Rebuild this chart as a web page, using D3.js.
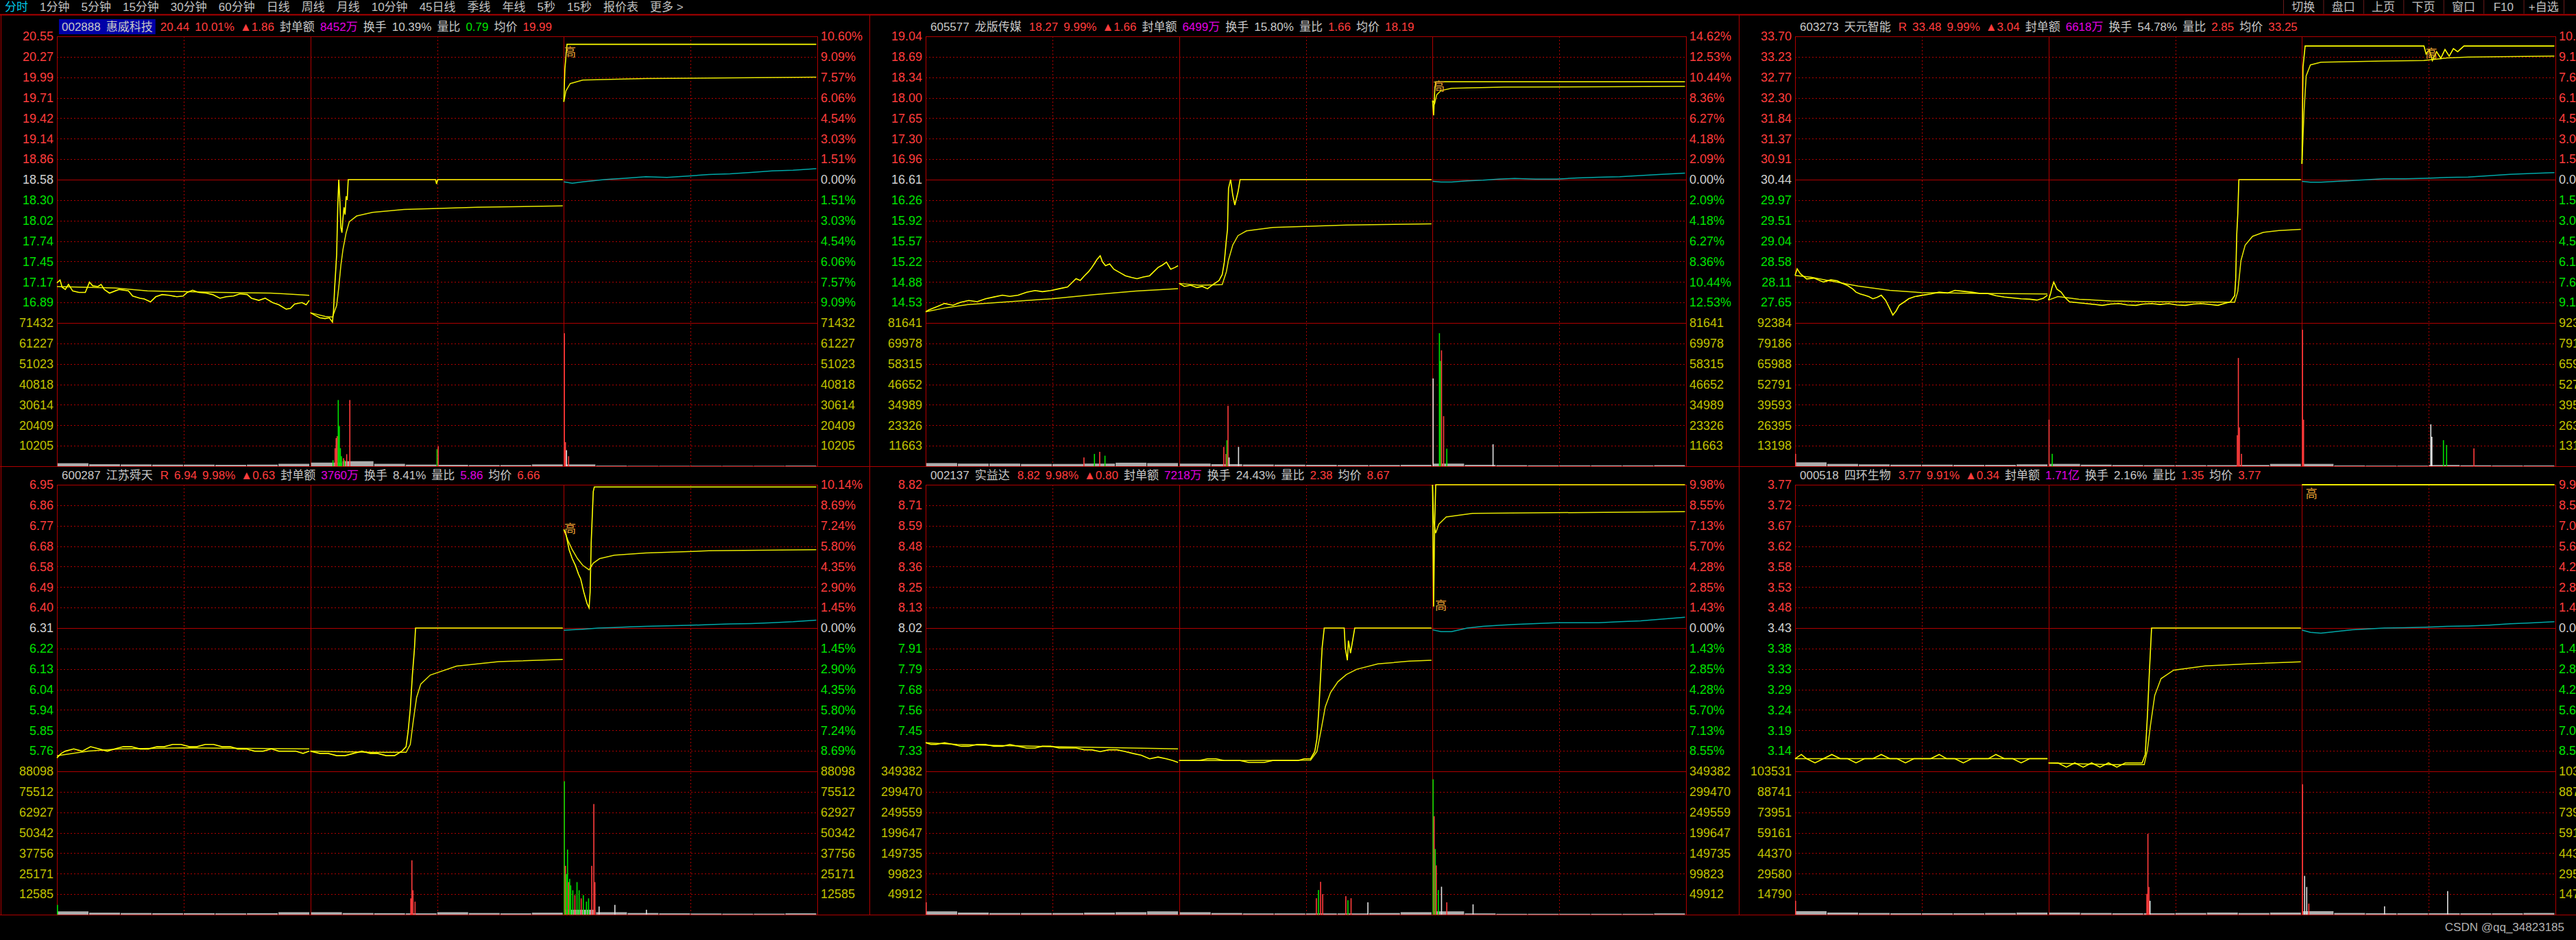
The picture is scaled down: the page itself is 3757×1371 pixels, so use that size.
<!DOCTYPE html>
<html><head><meta charset="utf-8">
<script src="https://cdn.jsdelivr.net/npm/d3@7"></script>
<style>
body{margin:0;background:#000;overflow:hidden}
svg{display:block}
text{font-family:"Liberation Sans",Arial,"Noto Sans CJK SC",sans-serif}
</style></head><body>
<svg id="c" width="3757" height="1371"></svg>
<script>
// ---------------- DATA ----------------
const toolbarLeft = ["分时","1分钟","5分钟","15分钟","30分钟","60分钟","日线","周线","月线","10分钟","45日线","季线","年线","5秒","15秒","报价表","更多 >"];
const toolbarRight = ["切换","盘口","上页","下页","窗口","F10","+自选"];
const watermark = "CSDN @qq_34823185";

// panel 1 : 002888
const p1Header = [["002888","name"],["惠威科技","name"],["20.44","up"],["10.01%","up"],["▲1.86","up"],["封单额","txt"],["8452万","mag"],["换手","txt"],["10.39%","txt"],["量比","txt"],["0.79","down"],["均价","txt"],["19.99","up"]];
const p1Top = 20.55, p1Prev = 18.58, p1VolMax = 71432;
const p1PriceLabels = ["20.55","20.27","19.99","19.71","19.42","19.14","18.86","18.58","18.30","18.02","17.74","17.45","17.17","16.89"];
const p1PctLabels = ["10.60%","9.09%","7.57%","6.06%","4.54%","3.03%","1.51%","0.00%","1.51%","3.03%","4.54%","6.06%","7.57%","9.09%"];
const p1VolLabels = ["71432","61227","51023","40818","30614","20409","10205"];
const p1Price = [[0,17.16],[3,17.20],[5,17.10],[8,17.07],[11,17.14],[15,17.05],[21,17.03],[27,17.03],[31,17.17],[34,17.12],[39,17.11],[42,17.14],[45,17.07],[50,17.02],[59,17.07],[68,17.05],[72,16.98],[79,16.95],[83,16.94],[89,16.90],[94,16.97],[100,17.00],[107,16.99],[114,16.97],[120,16.98],[124,17.03],[129,17.06],[135,17.03],[142,17.02],[148,17.00],[155,16.95],[161,16.97],[168,16.98],[174,17.01],[181,17.00],[185,16.95],[192,16.92],[198,16.95],[205,16.89],[211,16.86],[218,16.80],[222,16.81],[226,16.87],[233,16.89],[237,16.86],[240,16.92],
[241,16.75],[246,16.71],[250,16.68],[255,16.67],[259,16.68],[262,16.62],[263,16.77],[264,17.07],[266,17.55],[267,18.19],[268,18.58],[269,18.30],[270,17.92],[271,17.85],[272,18.05],[273,18.20],[274,18.10],[275,18.35],[276,18.30],[277,18.58],[360,18.58],[361,18.52],[362,18.58],[481,18.58],
[482,19.65],[483,20.10],[485,20.44],[722,20.44]];
const p1Avg = [[0,17.11],[55,17.09],[86,17.05],[155,17.03],[203,17.02],[216,17.01],[240,16.99],
[241,16.75],[255,16.70],[262,16.69],[266,16.85],[268,17.10],[270,17.40],[272,17.62],[275,17.85],[278,18.00],[285,18.08],[300,18.13],[330,18.17],[400,18.20],[481,18.22],
[482,19.65],[484,19.80],[488,19.90],[500,19.95],[560,19.97],[722,19.99]];
const p1Index = [[482,18.55],[490,18.53],[500,18.55],[520,18.58],[540,18.60],[560,18.62],[580,18.61],[600,18.63],[620,18.65],[640,18.66],[660,18.68],[680,18.70],[700,18.71],[722,18.73]];
const p1Vol = [[262,3000,-1],[264,9000,1],[265,14000,1],[266,15000,1],[267,33000,-1],[268,20000,-1],[269,9000,-1],[270,5000,-1],[272,4000,1],[273,3000,-1],[275,6000,1],[278,33000,1],[361,8500,-1],[362,9900,1],[482,66300,1],[483,12000,1],[484,8000,0],[486,5000,1]];
const p1VolBase = [1500,1000,900,800,800,700,800,1200,1800,2500,1200,800,700,600,600,900,900,300,200,200,200,200,200,300];
const p1Mark = [488,20.33];

// panel 2 : 605577
const p2Header = [["605577","name"],["龙版传媒","name"],["18.27","up"],["9.99%","up"],["▲1.66","up"],["封单额","txt"],["6499万","mag"],["换手","txt"],["15.80%","txt"],["量比","txt"],["1.66","up"],["均价","txt"],["18.19","up"]];
const p2Top = 19.04, p2Prev = 16.61, p2VolMax = 81641;
const p2PriceLabels = ["19.04","18.69","18.34","18.00","17.65","17.30","16.96","16.61","16.26","15.92","15.57","15.22","14.88","14.53"];
const p2PctLabels = ["14.62%","12.53%","10.44%","8.36%","6.27%","4.18%","2.09%","0.00%","2.09%","4.18%","6.27%","8.36%","10.44%","12.53%"];
const p2VolLabels = ["81641","69978","58315","46652","34989","23326","11663"];
const p2Price = [[0,14.37],[3,14.40],[10,14.45],[18,14.51],[26,14.48],[33,14.53],[41,14.56],[49,14.54],[57,14.59],[65,14.62],[73,14.65],[80,14.63],[88,14.65],[96,14.70],[104,14.73],[111,14.71],[119,14.73],[127,14.76],[135,14.79],[139,14.86],[143,14.93],[147,14.90],[151,14.98],[155,15.05],[158,15.12],[161,15.20],[163,15.26],[166,15.32],[168,15.22],[171,15.15],[175,15.18],[179,15.09],[185,15.03],[190,14.98],[196,14.95],[201,14.93],[207,14.96],[213,14.98],[217,15.05],[221,15.12],[225,15.16],[229,15.21],[233,15.09],[237,15.12],[240,15.15],
[241,14.85],[246,14.80],[252,14.82],[258,14.78],[263,14.80],[268,14.76],[274,14.84],[279,14.90],[282,15.00],[284,15.21],[286,15.60],[287,15.76],[288,16.46],[290,16.61],[292,16.35],[294,16.18],[297,16.40],[299,16.61],[481,16.61],
[482,17.95],[483,17.70],[484,18.10],[485,18.27],[722,18.27]];
const p2Avg = [[0,14.37],[20,14.44],[40,14.49],[80,14.54],[120,14.59],[160,14.66],[200,14.72],[240,14.76],
[241,14.85],[260,14.82],[282,14.83],[286,15.05],[288,15.25],[292,15.50],[297,15.66],[305,15.74],[330,15.80],[400,15.84],[481,15.86],
[482,17.95],[484,17.90],[486,18.05],[490,18.12],[500,18.16],[550,18.18],[722,18.19]];
const p2Index = [[482,16.58],[490,16.57],[500,16.57],[515,16.59],[530,16.60],[545,16.62],[560,16.63],[580,16.62],[600,16.62],[620,16.64],[640,16.65],[660,16.66],[680,16.68],[700,16.70],[722,16.72]];
const p2Vol = [[150,5000,1],[160,7000,-1],[165,8200,1],[170,6000,-1],[283,11000,1],[285,7000,1],[286,14800,-1],[287,34400,1],[288,5000,0],[297,11000,0],[482,50000,0],[488,75800,-1],[489,60000,-1],[490,66000,1],[492,28500,1],[495,10000,-1],[539,12500,0]];
const p2VolBase = [1800,1500,1500,1300,1300,1500,2000,1800,1500,1200,1000,900,800,700,700,800,1500,800,600,500,500,500,500,600];
const p2Mark = [488,18.19];

// panel 3 : 603273
const p3Header = [["603273","name"],["天元智能","name"],["R","up"],["33.48","up"],["9.99%","up"],["▲3.04","up"],["封单额","txt"],["6618万","mag"],["换手","txt"],["54.78%","txt"],["量比","txt"],["2.85","up"],["均价","txt"],["33.25","up"]];
const p3Top = 33.70, p3Prev = 30.44, p3VolMax = 92384;
const p3PriceLabels = ["33.70","33.23","32.77","32.30","31.84","31.37","30.91","30.44","29.97","29.51","29.04","28.58","28.11","27.65"];
const p3PctLabels = ["10.71%","9.18%","7.65%","6.12%","4.59%","3.06%","1.53%","0.00%","1.53%","3.06%","4.59%","6.12%","7.65%","9.18%"];
const p3VolLabels = ["92384","79186","65988","52791","39593","26395","13198"];
const p3Price = [[0,28.26],[2,28.41],[5,28.30],[11,28.18],[18,28.20],[27,28.11],[34,28.16],[40,28.14],[45,28.08],[50,28.03],[55,27.95],[58,27.88],[62,27.84],[66,27.81],[70,27.78],[74,27.73],[78,27.76],[82,27.81],[86,27.70],[90,27.51],[93,27.36],[96,27.45],[99,27.58],[104,27.66],[108,27.73],[114,27.78],[121,27.81],[129,27.84],[137,27.88],[145,27.86],[152,27.92],[160,27.90],[168,27.88],[176,27.85],[183,27.85],[191,27.80],[199,27.77],[207,27.75],[215,27.73],[223,27.72],[230,27.70],[236,27.74],[240,27.81],
[241,27.70],[243,27.85],[244,27.96],[246,28.11],[249,27.95],[253,27.88],[257,27.75],[261,27.66],[269,27.64],[277,27.62],[285,27.60],[292,27.58],[300,27.61],[308,27.62],[316,27.59],[324,27.58],[331,27.61],[339,27.62],[347,27.60],[355,27.62],[363,27.59],[371,27.58],[379,27.61],[386,27.62],[394,27.60],[402,27.58],[408,27.62],[414,27.66],[418,27.80],[419,28.18],[420,29.20],[421,29.67],[422,30.44],[481,30.44],
[482,30.80],[483,33.00],[485,33.48],[598,33.48],[600,33.30],[603,33.40],[606,33.15],[610,33.35],[614,33.20],[618,33.40],[622,33.25],[626,33.42],[630,33.35],[636,33.48],[722,33.48]];
const p3Avg = [[0,28.26],[15,28.22],[30,28.15],[60,28.02],[90,27.92],[120,27.87],[180,27.85],[240,27.84],
[241,27.70],[250,27.78],[270,27.72],[300,27.68],[350,27.66],[418,27.65],[421,27.90],[424,28.60],[428,28.95],[435,29.15],[445,29.24],[460,29.28],[481,29.31],
[482,30.80],[484,32.00],[486,32.80],[490,33.05],[500,33.11],[560,33.14],[598,33.15],[620,33.21],[640,33.23],[722,33.25]];
const p3Index = [[482,30.40],[490,30.38],[500,30.38],[515,30.40],[530,30.42],[545,30.44],[560,30.46],[580,30.46],[600,30.47],[620,30.49],[640,30.50],[660,30.53],[680,30.56],[700,30.58],[722,30.60]];
const p3Vol = [[0,8000,1],[241,30000,1],[244,8000,-1],[420,20000,1],[421,69800,1],[422,25000,1],[424,8000,1],[482,88000,1],[483,30000,1],[604,27000,0],[605,19000,0],[616,16800,-1],[619,13700,-1],[645,11500,1]];
const p3VolBase = [2500,1500,1200,1000,1000,900,900,1200,1500,1000,800,700,700,700,800,1500,1500,500,400,400,800,600,500,500];
const p3Mark = [605,33.30];

// panel 4 : 600287
const p4Header = [["600287","name"],["江苏舜天","name"],["R","up"],["6.94","up"],["9.98%","up"],["▲0.63","up"],["封单额","txt"],["3760万","mag"],["换手","txt"],["8.41%","txt"],["量比","txt"],["5.86","mag"],["均价","txt"],["6.66","up"]];
const p4Top = 6.95, p4Prev = 6.31, p4VolMax = 88098;
const p4PriceLabels = ["6.95","6.86","6.77","6.68","6.58","6.49","6.40","6.31","6.22","6.13","6.04","5.94","5.85","5.76"];
const p4PctLabels = ["10.14%","8.69%","7.24%","5.80%","4.35%","2.90%","1.45%","0.00%","1.45%","2.90%","4.35%","5.80%","7.24%","8.69%"];
const p4VolLabels = ["88098","75512","62927","50342","37756","25171","12585"];
const p4Price = [[0,5.73],[4,5.75],[8,5.76],[16,5.77],[24,5.76],[32,5.78],[40,5.77],[48,5.76],[55,5.77],[63,5.78],[71,5.78],[79,5.77],[87,5.77],[95,5.78],[102,5.78],[110,5.79],[118,5.79],[126,5.78],[133,5.78],[141,5.79],[149,5.79],[157,5.78],[165,5.78],[172,5.77],[180,5.77],[188,5.76],[196,5.76],[204,5.77],[211,5.76],[219,5.76],[227,5.76],[234,5.75],[240,5.76],
[241,5.76],[250,5.75],[258,5.75],[266,5.74],[274,5.74],[282,5.75],[290,5.76],[298,5.75],[305,5.75],[313,5.74],[321,5.74],[328,5.76],[332,5.78],[334,5.85],[336,5.95],[338,6.10],[340,6.22],[341,6.31],[481,6.31],
[482,6.75],[484,6.73],[487,6.66],[490,6.62],[493,6.59],[496,6.55],[498,6.53],[501,6.47],[504,6.42],[506,6.40],[507,6.47],[508,6.69],[510,6.92],[511,6.94],[722,6.94]];
const p4Avg = [[0,5.74],[30,5.76],[60,5.77],[120,5.775],[240,5.77],
[241,5.76],[300,5.755],[332,5.755],[336,5.79],[339,5.90],[342,6.00],[346,6.06],[355,6.10],[380,6.14],[420,6.16],[481,6.17],
[482,6.75],[486,6.70],[490,6.66],[495,6.62],[500,6.59],[506,6.57],[510,6.60],[516,6.62],[530,6.635],[560,6.645],[620,6.655],[722,6.66]];
const p4Index = [[482,6.30],[490,6.302],[500,6.305],[515,6.31],[530,6.312],[545,6.315],[560,6.318],[580,6.32],[600,6.322],[620,6.325],[640,6.328],[660,6.33],[680,6.334],[700,6.338],[722,6.345]];
const p4Vol = [[0,6000,-1],[336,10000,1],[337,33400,1],[338,15000,1],[340,8000,1],[482,82000,-1],[483,30000,1],[484,25000,-1],[485,40000,-1],[486,20000,1],[487,22000,-1],[488,18000,-1],[490,15000,-1],[492,12000,1],[494,20000,-1],[496,15000,-1],[498,10000,1],[500,12000,-1],[503,8000,-1],[505,10000,-1],[508,30000,1],[510,68000,1],[511,20000,1],[515,5000,0],[530,6000,0],[560,3000,0]];
const p4VolBase = [2000,1200,1000,900,900,800,900,1500,1500,1000,900,800,1500,1000,800,1200,3000,1500,1000,800,700,600,600,800];
const p4Mark = [488,6.754];

// panel 5 : 002137
const p5Header = [["002137","name"],["实益达","name"],["8.82","up"],["9.98%","up"],["▲0.80","up"],["封单额","txt"],["7218万","mag"],["换手","txt"],["24.43%","txt"],["量比","txt"],["2.38","up"],["均价","txt"],["8.67","up"]];
const p5Top = 8.82, p5Prev = 8.02, p5VolMax = 349382;
const p5PriceLabels = ["8.82","8.71","8.59","8.48","8.36","8.25","8.13","8.02","7.91","7.79","7.68","7.56","7.45","7.33"];
const p5PctLabels = ["9.98%","8.55%","7.13%","5.70%","4.28%","2.85%","1.43%","0.00%","1.43%","2.85%","4.28%","5.70%","7.13%","8.55%"];
const p5VolLabels = ["349382","299470","249559","199647","149735","99823","49912"];
const p5Price = [[0,7.38],[5,7.37],[10,7.37],[18,7.38],[26,7.37],[34,7.36],[41,7.36],[49,7.37],[57,7.37],[65,7.36],[73,7.36],[80,7.37],[88,7.36],[96,7.35],[104,7.35],[111,7.36],[119,7.36],[127,7.35],[135,7.35],[143,7.35],[151,7.34],[158,7.34],[166,7.33],[174,7.34],[182,7.34],[190,7.33],[197,7.32],[205,7.31],[213,7.29],[221,7.30],[229,7.29],[235,7.28],[240,7.27],
[241,7.28],[250,7.28],[260,7.28],[268,7.29],[276,7.29],[284,7.28],[291,7.28],[299,7.28],[307,7.27],[315,7.27],[322,7.27],[330,7.28],[338,7.28],[346,7.28],[354,7.28],[360,7.29],[366,7.29],[370,7.33],[372,7.40],[374,7.58],[377,7.91],[379,8.02],[398,8.02],[399,7.91],[401,7.84],[402,7.95],[404,7.88],[406,7.95],[408,8.02],[481,8.02],
[482,8.82],[483,8.14],[484,8.60],[485,8.82],[722,8.82]];
const p5Avg = [[0,7.38],[30,7.37],[60,7.365],[120,7.358],[180,7.352],[240,7.345],
[241,7.28],[300,7.28],[366,7.282],[372,7.33],[376,7.45],[380,7.58],[385,7.66],[392,7.72],[400,7.76],[410,7.79],[430,7.82],[460,7.835],[481,7.84],
[482,8.82],[483,8.62],[485,8.55],[488,8.60],[495,8.64],[520,8.66],[722,8.67]];
const p5Index = [[482,8.01],[490,8.00],[500,8.00],[515,8.02],[530,8.03],[545,8.035],[560,8.04],[580,8.045],[600,8.05],[620,8.05],[640,8.05],[660,8.055],[680,8.06],[700,8.07],[722,8.08]];
const p5Vol = [[0,30000,1],[371,40000,1],[373,60000,-1],[375,80000,1],[377,50000,1],[399,45000,1],[401,35000,-1],[404,40000,1],[420,30000,0],[482,330000,-1],[483,240000,1],[484,160000,-1],[485,120000,1],[487,60000,-1],[490,68000,0],[495,30000,1],[520,25000,0]];
const p5VolBase = [8000,5000,4000,4000,4000,5000,6000,8000,6000,4000,3000,3000,3000,3000,4000,6000,8000,3000,2000,2000,2000,2000,2000,3000];
const p5Mark = [490,8.145];

// panel 6 : 000518
const p6Header = [["000518","name"],["四环生物","name"],["3.77","up"],["9.91%","up"],["▲0.34","up"],["封单额","txt"],["1.71亿","mag"],["换手","txt"],["2.16%","txt"],["量比","txt"],["1.35","up"],["均价","txt"],["3.77","up"]];
const p6Top = 3.77, p6Prev = 3.43, p6VolMax = 103531;
const p6PriceLabels = ["3.77","3.72","3.67","3.62","3.58","3.53","3.48","3.43","3.38","3.33","3.29","3.24","3.19","3.14"];
const p6PctLabels = ["9.91%","8.50%","7.08%","5.66%","4.25%","2.83%","1.42%","0.00%","1.42%","2.83%","4.25%","5.66%","7.08%","8.50%"];
const p6VolLabels = ["103531","88741","73951","59161","44370","29580","14790"];
const p6Price = [[0,3.12],[6,3.13],[11,3.12],[19,3.11],[27,3.12],[35,3.13],[43,3.12],[50,3.12],[58,3.11],[66,3.12],[74,3.12],[82,3.13],[90,3.12],[97,3.12],[105,3.11],[113,3.12],[121,3.12],[129,3.12],[137,3.13],[144,3.12],[152,3.12],[160,3.11],[168,3.12],[176,3.12],[184,3.12],[191,3.13],[199,3.12],[207,3.12],[215,3.11],[223,3.12],[231,3.12],[240,3.12],
[241,3.11],[250,3.11],[258,3.10],[266,3.11],[274,3.10],[282,3.11],[290,3.10],[298,3.11],[306,3.10],[314,3.11],[322,3.11],[330,3.11],[333,3.13],[335,3.22],[337,3.33],[339,3.43],[481,3.43],
[482,3.77],[722,3.77]];
const p6Avg = [[0,3.12],[60,3.12],[120,3.12],[240,3.12],
[241,3.11],[300,3.106],[332,3.106],[335,3.14],[338,3.20],[342,3.27],[348,3.31],[360,3.33],[390,3.34],[430,3.345],[481,3.35],
[482,3.77],[722,3.77]];
const p6Index = [[482,3.425],[490,3.42],[500,3.418],[515,3.422],[530,3.426],[545,3.428],[560,3.43],[580,3.431],[600,3.432],[620,3.434],[640,3.435],[660,3.437],[680,3.44],[700,3.442],[722,3.445]];
const p6Vol = [[0,10000,1],[334,15000,1],[335,58400,1],[336,20000,1],[337,10000,0],[482,94200,1],[484,28000,0],[486,20000,0],[488,8000,1],[560,6000,0],[620,17000,0]];
const p6VolBase = [2500,1500,1200,1000,1000,1000,1200,1500,1500,1200,1000,1000,1200,1500,1200,1500,2500,1200,1000,1000,1000,1000,1000,1200];
const p6Mark = [491,3.748];

// ---------------- LAYOUT / STYLE ----------------
const C = {up:"#ff3c3c", down:"#00e000", zero:"#d0d0d0", txt:"#c8c8c8", name:"#c8c8c8", mag:"#e000e0",
  vol:"#c0c000", grid:"#b00000", price:"#ffff00", avg:"#e8e800", index:"#00a8a8", white:"#e0e0e0", tool:"#c0c0c0", sel:"#00c8e8", mark:"#e8a030"};
const COL_BORDER = [1, 1268, 2536];
const PLOT_OFF = 82, PLOT_W = 1109;
const ROW_TOP = [53, 707];
const STEP = 29.857;

const panels = [
 {col:0,row:0,top:p1Top,prev:p1Prev,volMax:p1VolMax,pl:p1PriceLabels,pct:p1PctLabels,vl:p1VolLabels,header:p1Header,sel:true,price:p1Price,avg:p1Avg,index:p1Index,vol:p1Vol,base:p1VolBase,mark:p1Mark},
 {col:1,row:0,top:p2Top,prev:p2Prev,volMax:p2VolMax,pl:p2PriceLabels,pct:p2PctLabels,vl:p2VolLabels,header:p2Header,sel:false,price:p2Price,avg:p2Avg,index:p2Index,vol:p2Vol,base:p2VolBase,mark:p2Mark},
 {col:2,row:0,top:p3Top,prev:p3Prev,volMax:p3VolMax,pl:p3PriceLabels,pct:p3PctLabels,vl:p3VolLabels,header:p3Header,sel:false,price:p3Price,avg:p3Avg,index:p3Index,vol:p3Vol,base:p3VolBase,mark:p3Mark},
 {col:0,row:1,top:p4Top,prev:p4Prev,volMax:p4VolMax,pl:p4PriceLabels,pct:p4PctLabels,vl:p4VolLabels,header:p4Header,sel:false,price:p4Price,avg:p4Avg,index:p4Index,vol:p4Vol,base:p4VolBase,mark:p4Mark},
 {col:1,row:1,top:p5Top,prev:p5Prev,volMax:p5VolMax,pl:p5PriceLabels,pct:p5PctLabels,vl:p5VolLabels,header:p5Header,sel:false,price:p5Price,avg:p5Avg,index:p5Index,vol:p5Vol,base:p5VolBase,mark:p5Mark},
 {col:2,row:1,top:p6Top,prev:p6Prev,volMax:p6VolMax,pl:p6PriceLabels,pct:p6PctLabels,vl:p6VolLabels,header:p6Header,sel:false,price:p6Price,avg:p6Avg,index:p6Index,vol:p6Vol,base:p6VolBase,mark:p6Mark}
];

const svg = d3.select("#c");
svg.append("rect").attr("width",3757).attr("height",1371).attr("fill","#000");

// toolbar
let tx = 7;
toolbarLeft.forEach((t,i) => {
  const el = svg.append("text").attr("x",tx).attr("y",16).attr("font-size",17)
    .attr("fill", i===0 ? C.sel : C.tool).text(t);
  tx += el.node().getComputedTextLength() + 17;
});
const tb = d3.scaleBand().domain(toolbarRight).range([3330, 3739]);
svg.selectAll(".tbr").data(toolbarRight).join("text").attr("class","tbr")
  .attr("x", d => tb(d) + tb.bandwidth()/2).attr("y",16).attr("font-size",17)
  .attr("text-anchor","middle").attr("fill",C.tool).text(d=>d);
svg.selectAll(".tbs").data(toolbarRight.concat(["_end"])).join("line").attr("class","tbs")
  .attr("x1",(d,i)=>3330.5+i*tb.bandwidth()).attr("x2",(d,i)=>3330.5+i*tb.bandwidth())
  .attr("y1",0).attr("y2",20).attr("stroke","#6a1a1a");

// global frame lines
const rowBottom = ROW_TOP.map(t => t + 21*STEP);
svg.append("line").attr("x1",0).attr("x2",3757).attr("y1",21.5).attr("y2",21.5).attr("stroke",C.grid).attr("stroke-width",2);
rowBottom.forEach(b => svg.append("line").attr("x1",0).attr("x2",3757).attr("y1",Math.round(b)+0.5).attr("y2",Math.round(b)+0.5).attr("stroke",C.grid));
COL_BORDER.forEach(xb => svg.append("line").attr("x1",xb+0.5).attr("x2",xb+0.5).attr("y1",21).attr("y2",rowBottom[1]).attr("stroke",C.grid));

const px = v => Math.round(v) + 0.5;

panels.forEach(p => {
  const L = COL_BORDER[p.col] + PLOT_OFF, R = L + PLOT_W;
  const T = ROW_TOP[p.row], PB = T + 14*STEP, VB = T + 21*STEP;
  const span = p.top - p.prev;
  const x = d3.scaleLinear().domain([0,723]).range([L,R]);
  const y = d3.scaleLinear().domain([p.prev - span, p.top]).range([PB, T]);
  const yv = d3.scaleLinear().domain([0, p.volMax]).range([VB, PB]);
  const g = svg.append("g");

  const priceTicks = d3.range(14).map(k => p.top - k*span/7);
  const volTicks = d3.range(7).map(k => p.volMax*(7-k)/7);

  // dotted grid
  g.selectAll(".hd").data(priceTicks.filter((d,i)=>i!==0 && i!==7)).join("line")
    .attr("x1",L).attr("x2",R).attr("y1",d=>px(y(d))).attr("y2",d=>px(y(d)))
    .attr("stroke",C.grid).attr("stroke-dasharray","2,3");
  g.selectAll(".hv").data(volTicks.slice(1)).join("line")
    .attr("x1",L).attr("x2",R).attr("y1",d=>px(yv(d))).attr("y2",d=>px(yv(d)))
    .attr("stroke",C.grid).attr("stroke-dasharray","2,3");
  g.selectAll(".vd").data([120.5, 361.5, 602.5]).join("line")
    .attr("x1",d=>px(x(d))).attr("x2",d=>px(x(d))).attr("y1",T).attr("y2",VB)
    .attr("stroke",C.grid).attr("stroke-dasharray","2,3");
  // solid
  g.append("rect").attr("x",px(L)).attr("y",px(T)).attr("width",PLOT_W).attr("height",Math.round(VB)-Math.round(T))
    .attr("fill","none").attr("stroke",C.grid);
  g.append("line").attr("x1",L).attr("x2",R).attr("y1",px(y(p.prev))).attr("y2",px(y(p.prev))).attr("stroke",C.grid);
  g.append("line").attr("x1",L).attr("x2",R).attr("y1",px(PB)).attr("y2",px(PB)).attr("stroke",C.grid);
  g.selectAll(".dd").data([241,482]).join("line")
    .attr("x1",d=>px(x(d))).attr("x2",d=>px(x(d))).attr("y1",T).attr("y2",VB).attr("stroke",C.grid);

  // volume base blocks (average small volume per 30-minute block)
  g.selectAll(".vb").data(p.base).join("rect")
    .attr("x",(d,i)=>x(Math.floor(i/8)*241 + (i%8)*30)+1)
    .attr("width",(d,i)=>x(30)-x(0)-1)
    .attr("y",d=>yv(d)).attr("height",d=>VB-yv(d))
    .attr("fill","#d8d8d8").attr("opacity",0.8);
  // volume bars
  g.selectAll(".vbar").data(p.vol).join("rect")
    .attr("x",d=>x(d[0])).attr("width",1.6)
    .attr("y",d=>yv(d[1])).attr("height",d=>VB-yv(d[1]))
    .attr("fill",d=> d[2]>0 ? C.up : d[2]<0 ? C.down : C.white);

  // lines split by day
  const line = d3.line().x(d=>x(d[0])).y(d=>y(d[1]));
  const byDay = arr => [0,1,2].map(k => arr.filter(d => d[0]>=k*241 && d[0]<(k+1)*241)).filter(a=>a.length);
  byDay(p.avg).forEach(seg => g.append("path").attr("d",line(seg)).attr("fill","none").attr("stroke",C.avg).attr("stroke-width",1.5));
  byDay(p.price).forEach(seg => g.append("path").attr("d",line(seg)).attr("fill","none").attr("stroke",C.price).attr("stroke-width",1.6));
  g.append("path").attr("d",line(p.index)).attr("fill","none").attr("stroke",C.index).attr("stroke-width",1.5);

  // marker
  g.append("text").attr("x",x(p.mark[0])).attr("y",y(p.mark[1])).attr("text-anchor","middle")
    .attr("dominant-baseline","central").attr("font-size",17).attr("fill",C.mark).text("高");

  // axes
  const styleAxis = (sel, colorFn) => {
    sel.select(".domain").remove();
    sel.attr("font-size",18).attr("font-family",'"Liberation Sans",Arial,sans-serif');
    sel.selectAll("text").attr("fill", colorFn);
  };
  const pColor = (d,i) => i<7 ? C.up : i===7 ? C.zero : C.down;
  const aL = g.append("g").attr("transform",`translate(${L-5},0)`)
    .call(d3.axisLeft(y).tickValues(priceTicks).tickSize(0).tickPadding(0).tickFormat((d,i)=>p.pl[i]));
  styleAxis(aL, pColor);
  const aR = g.append("g").attr("transform",`translate(${R+5},0)`)
    .call(d3.axisRight(y).tickValues(priceTicks).tickSize(0).tickPadding(0).tickFormat((d,i)=>p.pct[i]));
  styleAxis(aR, pColor);
  const vL = g.append("g").attr("transform",`translate(${L-5},0)`)
    .call(d3.axisLeft(yv).tickValues(volTicks).tickSize(0).tickPadding(0).tickFormat((d,i)=>p.vl[i]));
  styleAxis(vL, () => C.vol);
  const vR = g.append("g").attr("transform",`translate(${R+5},0)`)
    .call(d3.axisRight(yv).tickValues(volTicks).tickSize(0).tickPadding(0).tickFormat((d,i)=>p.vl[i]));
  styleAxis(vR, () => C.vol);

  // header
  const hy = T - 14;
  let hx = L + 7;
  const hg = g.append("g");
  p.header.forEach((tk,i) => {
    const el = hg.append("text").attr("x",hx).attr("y",hy).attr("dominant-baseline","central")
      .attr("font-size",17).attr("fill",C[tk[1]]).text(tk[0]);
    const w = el.node().getComputedTextLength();
    if (p.sel && i===1) {
      hg.insert("rect","text").attr("x",L+3).attr("y",hy-11).attr("width",hx+w+4-(L+3)).attr("height",22).attr("fill","#0000a8");
    }
    hx += w + (i===1 ? 11 : 8);
  });
});

// watermark
svg.append("text").attr("x",3740).attr("y",1358).attr("text-anchor","end").attr("font-size",17)
  .attr("font-family","Arial,'Liberation Sans',sans-serif").attr("fill","#b0b0b0").text(watermark);
</script></body></html>
